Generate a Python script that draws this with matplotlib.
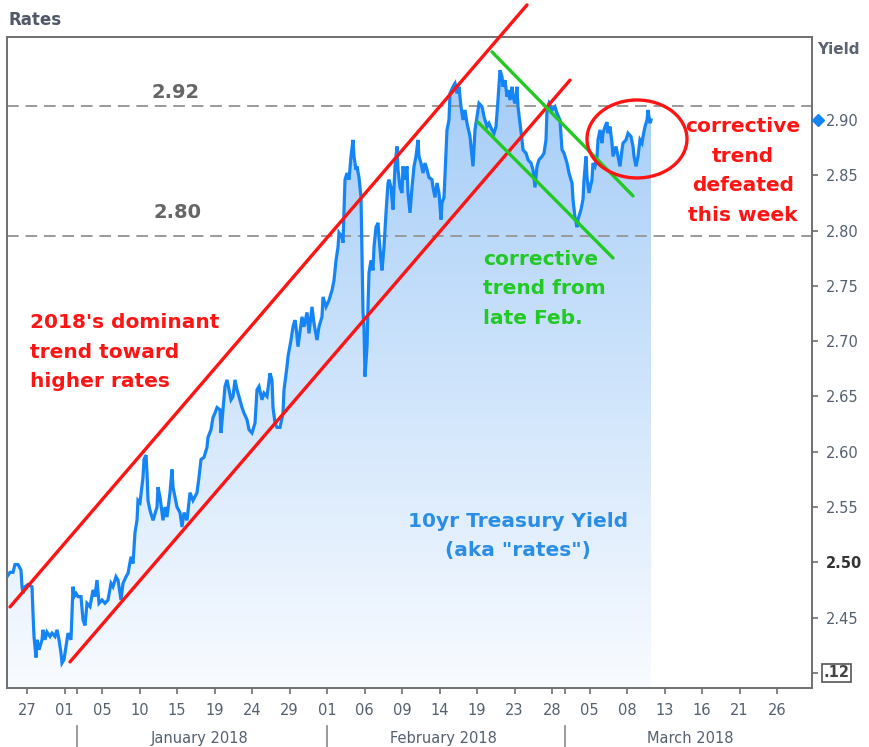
import numpy as np
import matplotlib
matplotlib.use('Agg')
import matplotlib.pyplot as plt
from matplotlib.patches import Ellipse, Polygon
from matplotlib.lines import Line2D
import matplotlib.transforms as mtransforms

# ---------------- data ----------------
# x position in trading sessions (0 = 27 Dec 2017), y = 10yr yield (%)
session = [-1.6, -1.36, -1.12, -0.96, -0.72, -0.48, -0.4, -0.32, -0.16, 0.08, 0.4, 0.48, 0.56, 0.72, 0.8,
           0.96, 1.2, 1.28, 1.44, 1.6, 1.84, 2.0, 2.24, 2.4, 2.56, 2.72, 2.8, 2.96, 3.12, 3.28,
           3.52, 3.68, 3.76, 3.92, 4.08, 4.32, 4.48, 4.64, 4.8, 5.04, 5.28, 5.44, 5.6, 5.76, 6.0,
           6.24, 6.48, 6.72, 6.88, 7.12, 7.28, 7.52, 7.68, 7.92, 8.08, 8.32, 8.48, 8.64, 8.8, 8.88,
           9.04, 9.28, 9.36, 9.52, 9.6, 9.68, 9.84, 10.08, 10.4, 10.48, 10.64, 10.88, 11.04, 11.2, 11.44,
           11.6, 11.68, 12.0, 12.24, 12.4, 12.56, 12.8, 13.04, 13.28, 13.6, 13.76, 13.92, 14.16, 14.4, 14.48,
           14.72, 14.88, 15.04, 15.2, 15.44, 15.52, 15.68, 15.84, 16.0, 16.16, 16.32, 16.48, 16.64, 16.8, 16.96,
           17.2, 17.36, 17.6, 17.76, 18.0, 18.24, 18.4, 18.56, 18.8, 18.96, 19.2, 19.44, 19.6, 19.68, 19.84,
           20.0, 20.24, 20.48, 20.56, 20.8, 20.88, 21.12, 21.28, 21.44, 21.52, 21.68, 22.0, 22.16, 22.4, 22.56,
           22.8, 22.96, 23.2, 23.36, 23.6, 23.68, 23.92, 24.16, 24.4, 24.56, 24.72, 24.88, 24.96, 25.2, 25.28,
           25.44, 25.6, 25.76, 25.92, 26.08, 26.16, 26.32, 26.4, 26.56, 26.72, 26.8, 26.88, 26.96, 27.04, 27.2,
           27.28, 27.36, 27.52, 27.68, 27.76, 27.92, 28.08, 28.16, 28.32, 28.4, 28.56, 28.72, 28.88, 28.96, 29.12,
           29.28, 29.44, 29.6, 29.68, 29.84, 30.0, 30.08, 30.24, 30.4, 30.48, 30.64, 30.8, 30.96, 31.12, 31.28,
           31.36, 31.52, 31.68, 31.84, 32.0, 32.16, 32.4, 32.48, 32.64, 32.8, 32.96, 33.12, 33.2, 33.36, 33.52,
           33.6, 33.76, 33.84, 34.08, 34.24, 34.4, 34.56, 34.72, 34.88, 35.04, 35.2, 35.44, 35.6, 35.68, 35.84,
           36.0, 36.16, 36.4, 36.56, 36.8, 36.96, 37.2, 37.36, 37.52, 37.68, 37.84, 38.0, 38.08, 38.24, 38.4,
           38.48, 38.64, 38.8, 38.88, 39.04, 39.2, 39.28, 39.44, 39.6, 39.68, 39.92, 40.08, 40.32, 40.48, 40.64,
           40.8, 40.96, 41.2, 41.36, 41.52, 41.6, 41.76, 42.0, 42.24, 42.4, 42.64, 42.8, 42.96, 43.2, 43.36,
           43.6, 43.68, 43.84, 44.0, 44.08, 44.32, 44.48, 44.56, 44.72, 44.8, 44.96, 45.2, 45.28, 45.44, 45.6,
           45.68, 45.84, 46.0, 46.08, 46.24, 46.4, 46.48, 46.64, 46.8, 46.88, 47.12, 47.28, 47.44, 47.6, 47.68,
           47.92, 48.08, 48.32, 48.48, 48.56, 48.72, 48.88, 49.04, 49.2, 49.28, 49.44, 49.6, 49.68, 49.84, 49.92]

yield_10yr = [2.487, 2.491, 2.491, 2.498, 2.498, 2.493, 2.478, 2.472, 2.478, 2.480, 2.478, 2.454, 2.433, 2.414, 2.430,
              2.421, 2.430, 2.439, 2.430, 2.437, 2.433, 2.436, 2.433, 2.439, 2.430, 2.418, 2.409, 2.412, 2.424, 2.436,
              2.430, 2.478, 2.469, 2.472, 2.469, 2.469, 2.448, 2.443, 2.463, 2.460, 2.475, 2.469, 2.484, 2.463, 2.466,
              2.463, 2.466, 2.481, 2.478, 2.487, 2.484, 2.466, 2.481, 2.487, 2.490, 2.505, 2.499, 2.527, 2.538, 2.556,
              2.554, 2.577, 2.593, 2.597, 2.581, 2.556, 2.547, 2.538, 2.550, 2.568, 2.559, 2.538, 2.550, 2.541, 2.563,
              2.584, 2.568, 2.550, 2.545, 2.532, 2.545, 2.538, 2.563, 2.556, 2.563, 2.577, 2.593, 2.595, 2.604, 2.613,
              2.620, 2.631, 2.635, 2.640, 2.638, 2.617, 2.638, 2.659, 2.665, 2.656, 2.647, 2.650, 2.665, 2.656, 2.650,
              2.640, 2.635, 2.629, 2.620, 2.617, 2.626, 2.656, 2.659, 2.647, 2.653, 2.650, 2.671, 2.665, 2.640, 2.626,
              2.622, 2.622, 2.635, 2.656, 2.677, 2.686, 2.701, 2.713, 2.719, 2.713, 2.695, 2.722, 2.713, 2.726, 2.707,
              2.731, 2.716, 2.701, 2.713, 2.722, 2.740, 2.731, 2.737, 2.746, 2.755, 2.773, 2.785, 2.798, 2.794, 2.789,
              2.846, 2.852, 2.846, 2.867, 2.882, 2.867, 2.855, 2.858, 2.848, 2.830, 2.780, 2.726, 2.713, 2.668, 2.695,
              2.731, 2.762, 2.773, 2.764, 2.785, 2.803, 2.807, 2.794, 2.773, 2.764, 2.785, 2.816, 2.843, 2.846, 2.839,
              2.819, 2.858, 2.876, 2.855, 2.839, 2.834, 2.858, 2.846, 2.858, 2.834, 2.816, 2.839, 2.858, 2.867, 2.882,
              2.867, 2.861, 2.852, 2.861, 2.855, 2.848, 2.846, 2.839, 2.830, 2.843, 2.834, 2.810, 2.825, 2.830, 2.870,
              2.891, 2.900, 2.924, 2.930, 2.933, 2.924, 2.930, 2.912, 2.900, 2.909, 2.897, 2.885, 2.867, 2.858, 2.891,
              2.903, 2.915, 2.912, 2.903, 2.894, 2.897, 2.891, 2.888, 2.894, 2.918, 2.945, 2.939, 2.930, 2.936, 2.921,
              2.927, 2.918, 2.930, 2.921, 2.915, 2.930, 2.912, 2.897, 2.882, 2.873, 2.870, 2.864, 2.861, 2.855, 2.839,
              2.858, 2.864, 2.867, 2.870, 2.882, 2.909, 2.915, 2.909, 2.912, 2.906, 2.900, 2.873, 2.870, 2.861, 2.852,
              2.843, 2.828, 2.812, 2.803, 2.810, 2.819, 2.828, 2.846, 2.867, 2.848, 2.834, 2.846, 2.861, 2.858, 2.867,
              2.882, 2.891, 2.879, 2.888, 2.894, 2.898, 2.888, 2.894, 2.879, 2.867, 2.876, 2.867, 2.858, 2.873, 2.879,
              2.882, 2.888, 2.885, 2.876, 2.867, 2.858, 2.867, 2.882, 2.879, 2.885, 2.894, 2.900, 2.909, 2.897, 2.900]

x_tick_pos = list(range(0, 61, 3))
x_tick_labels = ['27', '01', '05', '10', '15', '19', '24', '29', '01', '06', '09',
                 '14', '19', '23', '28', '05', '08', '13', '16', '21', '26']
month_starts = [4, 24, 43]
month_names = ['January 2018', 'February 2018', 'March 2018']
month_label_pos = [13.84, 33.28, 53.04]

y_ticks = [2.40, 2.45, 2.50, 2.55, 2.60, 2.65, 2.70, 2.75, 2.80, 2.85, 2.90]
y_tick_labels = ['', '2.45', '2.50', '2.55', '2.60', '2.65', '2.70', '2.75', '2.80', '2.85', '2.90']

levels = [2.913, 2.7955]
level_labels = ['2.92', '2.80']
level_label_x = [11.9, 12.0]
level_label_y = [2.9244, 2.8159]

# trend lines (start, end) as (session, yield)
dominant_upper = ([-1.36, 40.0], [2.4597, 3.004])
dominant_lower = ([3.44, 43.44], [2.410, 2.936])
corrective_upper = ([37.2, 48.48], [2.9615, 2.8313])
corrective_lower = ([36.08, 46.88], [2.898, 2.7752])
circle_center = (48.8, 2.8828)
circle_size = (8.0, 0.0705)

XMIN, XMAX = -1.6, 62.8
YMIN, YMAX = 2.3864, 2.975

# ---------------- figure ----------------
W, H = 869, 747
fig = plt.figure(figsize=(W / 100, H / 100), dpi=100)
fig.patch.set_facecolor('white')
ax = fig.add_axes([7 / W, 1 - 688 / H, (812 - 7) / W, (688 - 37) / H])
ax.set_facecolor('white')

xs = np.array(session)
ys = np.array(yield_10yr)

# gradient fill under the line
verts = [(xs[0], YMIN)] + list(zip(xs, ys)) + [(xs[-1], YMIN)]
poly = Polygon(verts, closed=True, facecolor='none', edgecolor='none')
ax.add_patch(poly)
g = np.linspace(0, 1, 256).reshape(-1, 1, 1)
top_c = np.array([0.64, 0.80, 0.97]).reshape(1, 1, 3)
bot_c = np.array([0.975, 0.985, 1.0]).reshape(1, 1, 3)
img = bot_c + (top_c - bot_c) * g
im = ax.imshow(img, extent=[xs[0], xs[-1], YMIN, 2.95], origin='lower',
               aspect='auto', zorder=1, interpolation='bilinear')
im.set_clip_path(poly)

# level lines
for lv, lab, lx, ly in zip(levels, level_labels, level_label_x, level_label_y):
    ax.axhline(lv, color='#9a9a9a', lw=1.4, ls=(0, (6, 3.5)), zorder=2)
    ax.text(lx, ly, lab, fontsize=14, fontweight='bold', color='#666666',
            ha='center', va='center', zorder=5)

# main line
ax.plot(xs, ys, color='#1585f5', lw=2.3, zorder=4, solid_joinstyle='miter')

# trend lines
red = '#ff1414'
green = '#22c922'
ax.plot(*dominant_upper, color=red, lw=2.4, zorder=6, clip_on=False, solid_capstyle='round')
ax.plot(*dominant_lower, color=red, lw=2.4, zorder=6, clip_on=False, solid_capstyle='round')
ax.plot(*corrective_upper, color=green, lw=2.4, zorder=6, solid_capstyle='round')
ax.plot(*corrective_lower, color=green, lw=2.4, zorder=6, solid_capstyle='round')
ax.add_patch(Ellipse(circle_center, circle_size[0], circle_size[1], fill=False,
                     edgecolor=red, lw=2.4, zorder=6))

ax.set_xlim(XMIN, XMAX)
ax.set_ylim(YMIN, YMAX)

# axes styling
for s in ax.spines.values():
    s.set_color('#707070')
    s.set_linewidth(1.4)
ax.yaxis.tick_right()
ax.set_yticks(y_ticks)
ax.set_yticklabels(y_tick_labels)
ax.tick_params(axis='y', direction='out', length=4, width=1.2, color='#707070',
               labelsize=10.5, labelcolor='#55606e', pad=6)
for t in ax.get_yticklabels():
    if t.get_text() == '2.50':
        t.set_fontweight('bold')
        t.set_color('#333333')

ax.set_xticks(x_tick_pos)
ax.set_xticklabels(x_tick_labels)
ax.set_xticks(month_starts, minor=True)
ax.tick_params(axis='x', which='both', direction='out', length=4, width=1.2, color='#707070',
               labelsize=10.5, labelcolor='#55606e', pad=7)

# month labels and separators
trans = mtransforms.blended_transform_factory(ax.transData, ax.transAxes)
for ms in month_starts:
    ax.add_line(Line2D([ms, ms], [-0.058, -0.095], transform=trans, color='#888888',
                       lw=1.2, clip_on=False))
for mp, mn in zip(month_label_pos, month_names):
    ax.text(mp, -0.077, mn, transform=trans, ha='center', va='center',
            fontsize=10.5, color='#55606e', clip_on=False)

# last value marker on the axis
ax.plot([63.3], [ys[-1]], marker='D', ms=6.5, color='#1585f5', clip_on=False, zorder=7)

# boxed bottom label
ax.text(1.014, 2.40, '.12', transform=mtransforms.blended_transform_factory(ax.transAxes, ax.transData),
        ha='left', va='center', fontsize=10.5, fontweight='bold', color='#444444',
        bbox=dict(boxstyle='square,pad=0.12', fc='white', ec='#555555', lw=1.2), clip_on=False)

# titles
fig.text(8 / W, 1 - 20 / H, 'Rates', fontsize=12, fontweight='bold', color='#4f5868',
         ha='left', va='center')
fig.text(838 / W, 1 - 50 / H, 'Yield', fontsize=11, fontweight='bold', color='#5a6370',
         ha='center', va='center')

# annotations
fig.text(30 / W, 1 - 352 / H, "2018's dominant\ntrend toward\nhigher rates", fontsize=14.5,
         fontweight='bold', color=red, ha='left', va='center', linespacing=1.7)
fig.text(483 / W, 1 - 289 / H, "corrective\ntrend from\nlate Feb.", fontsize=14.5,
         fontweight='bold', color=green, ha='left', va='center', linespacing=1.7)
fig.text(743 / W, 1 - 171 / H, "corrective\ntrend\ndefeated\nthis week", fontsize=14.5,
         fontweight='bold', color=red, ha='center', va='center', linespacing=1.7)
fig.text(518 / W, 1 - 536 / H, '10yr Treasury Yield\n(aka "rates")', fontsize=14.5,
         fontweight='bold', color='#2b8ee6', ha='center', va='center', linespacing=1.62)

fig.savefig('out.png', dpi=100, facecolor='white')
